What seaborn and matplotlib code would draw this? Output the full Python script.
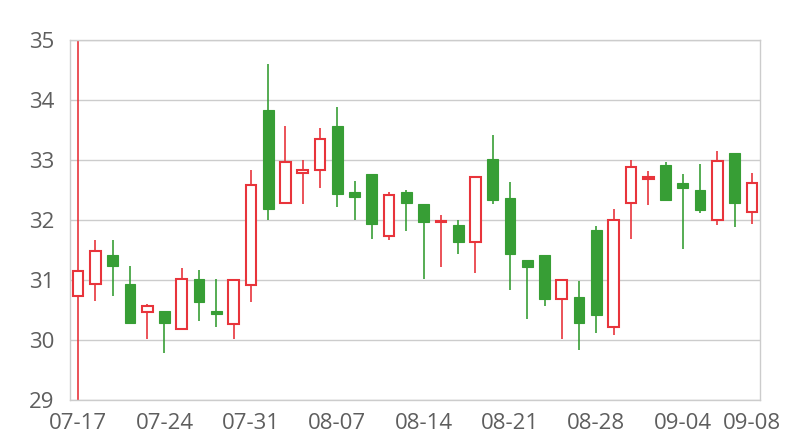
import pandas as pd
import seaborn as sns
import matplotlib.pyplot as plt

dates = ['07-17', '07-18', '07-19', '07-20', '07-21',
         '07-24', '07-25', '07-26', '07-27', '07-28',
         '07-31', '08-01', '08-02', '08-03', '08-04',
         '08-07', '08-08', '08-09', '08-10', '08-11',
         '08-14', '08-15', '08-16', '08-17', '08-18',
         '08-21', '08-22', '08-23', '08-24', '08-25',
         '08-28', '08-29', '08-30', '08-31', '09-01',
         '09-04', '09-05', '09-06', '09-07', '09-08']
open_ = [30.73, 30.93, 31.42, 30.94, 30.47,
         30.49, 30.19, 31.01, 30.48, 30.26,
         30.92, 33.83, 32.29, 32.79, 32.83,
         33.56, 32.47, 32.77, 31.74, 32.46,
         32.27, 31.97, 31.92, 31.63, 33.02,
         32.36, 31.33, 31.41, 30.69, 30.71,
         31.83, 30.21, 32.28, 32.68, 32.91,
         32.61, 32.50, 32.00, 33.12, 32.13]
close = [31.15, 31.49, 31.24, 30.29, 30.57,
         30.29, 31.01, 30.63, 30.43, 31.00,
         32.58, 32.18, 32.97, 32.83, 33.35,
         32.44, 32.39, 31.93, 32.41, 32.29,
         31.97, 31.99, 31.63, 32.71, 32.34,
         31.43, 31.21, 30.69, 31.00, 30.29,
         30.42, 32.00, 32.89, 32.71, 32.33,
         32.54, 32.16, 32.99, 32.29, 32.61]
high = [35.50, 31.67, 31.66, 31.24, 30.60,
        30.49, 31.20, 31.17, 31.01, 31.00,
        32.83, 34.60, 33.56, 33.00, 33.54,
        33.88, 32.65, 32.77, 32.47, 32.50,
        32.27, 32.08, 32.00, 32.71, 33.41,
        32.64, 31.33, 31.41, 31.00, 30.98,
        31.90, 32.19, 33.00, 32.82, 32.96,
        32.76, 32.94, 33.15, 33.12, 32.79]
low = [28.50, 30.65, 30.74, 30.29, 30.01,
       29.79, 30.19, 30.32, 30.22, 30.01,
       30.64, 32.00, 32.29, 32.27, 32.54,
       32.22, 32.00, 31.68, 31.66, 31.81,
       31.01, 31.21, 31.43, 31.11, 32.27,
       30.83, 30.35, 30.56, 30.01, 29.83,
       30.11, 30.09, 31.69, 32.25, 32.33,
       31.52, 32.11, 31.91, 31.88, 31.93]
tick_labels = ['07-17', '07-24', '07-31', '08-07', '08-14', '08-21', '08-28', '09-04', '09-08']

df = pd.DataFrame({'date': dates, 'open': open_, 'close': close, 'high': high, 'low': low})
df['x'] = range(len(df))
df['up'] = df['close'] >= df['open']

red = '#e8343b'
green = '#379e35'

sns.set_theme(style='white')
plt.rcParams['font.family'] = ['Open Sans', 'DejaVu Sans']

fig = plt.figure(figsize=(8, 4.4), dpi=100)
ax = fig.add_axes([0.0875, 0.0909, 0.8625, 0.8182])

# mechas
for up, col in [(True, red), (False, green)]:
    d = df[df['up'] == up]
    ax.vlines(d['x'], d['low'], d['high'], color=col, lw=1.4, alpha=0.85, zorder=2)

# corpos
w = 0.62
d = df[df['up']]
ax.bar(d['x'], d['close'] - d['open'], bottom=d['open'], width=w,
       facecolor='white', edgecolor=red, linewidth=1.5, zorder=3)
d = df[~df['up']]
ax.bar(d['x'], d['open'] - d['close'], bottom=d['close'], width=w,
       facecolor=green, edgecolor=green, linewidth=0.8, zorder=3)

ax.set_ylim(29, 35)
ax.set_xlim(-0.47, len(df) - 0.53)
ax.set_yticks(range(29, 36))
ax.set_xticks([dates.index(t) for t in tick_labels])
ax.set_xticklabels(tick_labels)
ax.yaxis.grid(True, color='#cccccc', lw=1)
ax.set_axisbelow(True)
for s in ax.spines.values():
    s.set_color('#cccccc')
    s.set_linewidth(1)
ax.tick_params(axis='both', length=0, labelsize=16, colors='#5e5e5e')
ax.tick_params(axis='y', pad=11)
ax.tick_params(axis='x', pad=9)

fig.savefig('out.png', dpi=100)
